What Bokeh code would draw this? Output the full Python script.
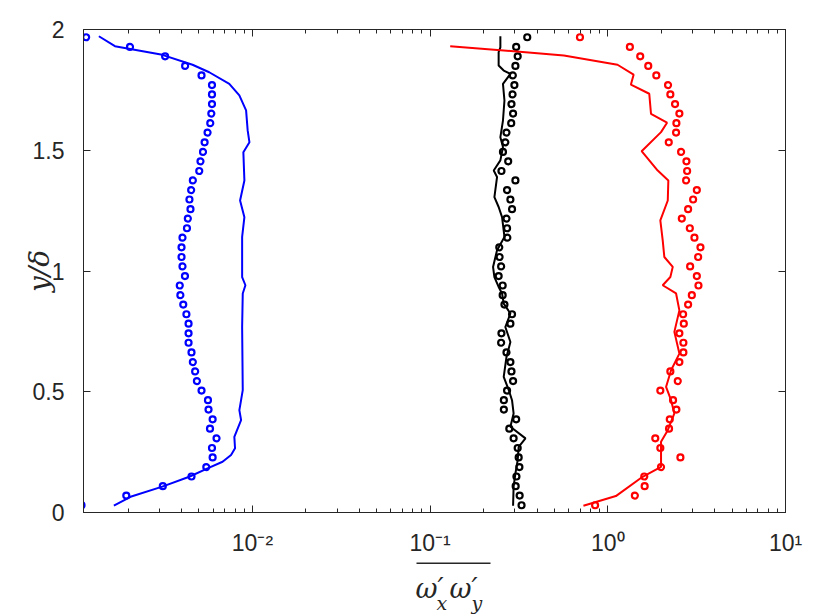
from bokeh.plotting import figure
from bokeh.layouts import column
from bokeh.core.properties import value
from bokeh.models import (Range1d, FixedTicker, CustomJSTickFormatter, LogAxis,
                          LinearAxis)
from bokeh.embed import file_html
from bokeh.resources import INLINE

# ---------------- data ----------------
# y positions of the circle markers (bottom -> top)
y_circ = [0.030, 0.070, 0.109, 0.149, 0.188, 0.228, 0.267, 0.307, 0.347, 0.386,
          0.426, 0.465, 0.505, 0.544, 0.584, 0.623, 0.663, 0.703, 0.742, 0.782,
          0.821, 0.861, 0.900, 0.940, 0.979, 1.019, 1.058, 1.098, 1.138, 1.177,
          1.217, 1.256, 1.296, 1.335, 1.375, 1.414, 1.454, 1.493, 1.533, 1.573,
          1.612, 1.652, 1.691, 1.731, 1.770, 1.810, 1.849, 1.889, 1.928, 1.968]

blue_circ_x = [1.091e-3, 1.95e-3, 3.13e-3, 4.54e-3, 5.50e-3, 5.97e-3, 5.92e-3, 6.28e-3, 5.77e-3, 5.97e-3,
               5.66e-3, 5.62e-3, 5.17e-3, 4.87e-3, 4.76e-3, 4.62e-3, 4.54e-3, 4.37e-3, 4.37e-3, 4.37e-3,
               4.25e-3, 4.08e-3, 3.93e-3, 3.90e-3, 4.17e-3, 4.04e-3, 3.99e-3, 3.99e-3, 4.04e-3, 4.28e-3,
               4.33e-3, 4.48e-3, 4.42e-3, 4.52e-3, 4.62e-3, 5.02e-3, 5.10e-3, 5.27e-3, 5.38e-3, 5.59e-3,
               5.79e-3, 5.87e-3, 5.92e-3, 5.92e-3, 5.92e-3, 5.17e-3, 4.18e-3, 3.225e-3, 2.046e-3, 1.159e-3]

black_circ_x = [0.327, 0.319, 0.303, 0.306, 0.318, 0.315, 0.311, 0.295, 0.279, 0.305,
                0.260, 0.260, 0.271, 0.293, 0.287, 0.283, 0.269, 0.251, 0.252, 0.283,
                0.289, 0.262, 0.256, 0.256, 0.243, 0.251, 0.246, 0.245, 0.272, 0.271,
                0.269, 0.289, 0.283, 0.271, 0.302, 0.252, 0.275, 0.257, 0.265, 0.269,
                0.286, 0.293, 0.287, 0.291, 0.298, 0.292, 0.302, 0.311, 0.305, 0.352]

red_circ_x = [0.848, 1.420, 1.612, 1.604, 1.993, 2.562, 1.975, 1.850, 2.211, 2.232,
              2.432, 2.329, 1.975, 2.476, 2.249, 2.528, 2.663, 2.663, 2.528, 2.677,
              2.653, 2.831, 2.971, 3.237, 3.170, 2.906, 3.224, 3.322, 3.073, 2.894,
              2.609, 2.831, 3.021, 3.170, 2.759, 2.795, 2.770, 2.585, 2.203, 2.422,
              2.432, 2.528, 2.390, 2.249, 2.183, 1.875, 1.689, 1.522, 1.331, 0.697]

blue_line_y = [0.028, 0.065, 0.107, 0.148, 0.183, 0.210, 0.238, 0.266, 0.313, 0.383,
               0.424, 0.465, 0.507, 0.768, 0.907, 0.941, 0.975, 1.044, 1.141, 1.223,
               1.292, 1.375, 1.492, 1.533, 1.582, 1.665, 1.727, 1.775, 1.823, 1.854,
               1.895, 1.931, 1.972]
blue_line_x = [1.66e-3, 2.06e-3, 3.11e-3, 4.41e-3, 5.59e-3, 6.79e-3, 7.58e-3, 7.98e-3, 7.91e-3, 8.63e-3,
               8.44e-3, 8.63e-3, 8.82e-3, 8.75e-3, 8.82e-3, 9.13e-3, 8.75e-3, 8.75e-3, 8.75e-3, 9.01e-3,
               8.52e-3, 9.01e-3, 8.89e-3, 9.62e-3, 9.40e-3, 9.21e-3, 8.44e-3, 7.41e-3, 5.71e-3, 4.60e-3,
               3.11e-3, 1.683e-3, 1.367e-3]

black_line_y = [0.028, 0.107, 0.162, 0.217, 0.272, 0.307, 0.355, 0.410, 0.465, 0.507,
                0.562, 0.644, 0.706, 0.768, 0.824, 0.865, 0.907, 0.934, 0.975, 1.017,
                1.086, 1.141, 1.223, 1.265, 1.306, 1.389, 1.416, 1.458, 1.513, 1.554,
                1.623, 1.706, 1.775, 1.816, 1.830, 1.851, 1.906, 1.926, 1.972]
black_line_x = [0.293, 0.295, 0.302, 0.311, 0.315, 0.344, 0.283, 0.295, 0.289, 0.277,
                0.2595, 0.269, 0.283, 0.265, 0.283, 0.2595, 0.254, 0.243, 0.230, 0.226,
                0.238, 0.262, 0.254, 0.243, 0.230, 0.238, 0.228, 0.2485, 0.257, 0.2485,
                0.257, 0.262, 0.257, 0.283, 0.2595, 0.243, 0.243, 0.2485, 0.2485]

red_line_y = [0.028, 0.068, 0.148, 0.189, 0.293, 0.341, 0.410, 0.465, 0.520, 0.589,
              0.658, 0.748, 0.837, 0.907, 0.941, 0.975, 1.017, 1.058, 1.127, 1.210,
              1.292, 1.375, 1.416, 1.496, 1.575, 1.614, 1.651, 1.734, 1.772, 1.813,
              1.854, 1.892, 1.910, 1.931]
red_line_x = [0.729, 1.110, 1.570, 1.993, 1.993, 2.175, 2.369, 2.270, 2.127, 2.270,
              2.528, 2.369, 2.528, 2.422, 2.037, 2.249, 2.320, 2.080, 2.037, 1.975,
              2.175, 2.191, 1.909, 1.550, 1.993, 2.154, 1.750, 1.711, 1.349, 1.397,
              1.134, 0.566, 0.2955, 0.1297]

x_ticks = [0.01, 0.1, 1, 10]
y_ticks = [0, 0.5, 1, 1.5, 2]

# pieces of the x-axis title  (overline over  ω'_x ω'_y)
xlabel_parts = ["ω′", "x", "ω′", "y"]

# ---------------- main figure ----------------
AX = "#262626"
W = 822
FL, FR = 83, 785          # frame left / right in page pixels
p = figure(width=W, height=560, x_axis_type="log",
           x_range=Range1d(1.12e-3, 10), y_range=Range1d(0, 2),
           output_backend="svg", toolbar_location=None,
           min_border_left=FL, min_border_right=W - FR,
           min_border_top=29, min_border_bottom=48)
p.grid.visible = False
p.outline_line_color = AX
p.outline_line_width = 1
p.background_fill_color = "white"
p.border_fill_color = "white"

minor = [k * 10.0 ** e for e in range(-3, 1) for k in range(2, 10)]
xt = FixedTicker(ticks=x_ticks, minor_ticks=minor)
yt = FixedTicker(ticks=y_ticks, minor_ticks=[])

sup_fmt = CustomJSTickFormatter(code="""
const e = Math.round(Math.log10(tick));
const m = {"-":"\u207b","0":"\u2070","1":"\u00b9","2":"\u00b2","3":"\u00b3"};
return "10" + String(e).split("").map(c => m[c]).join("");
""")
y_fmt = CustomJSTickFormatter(code="return tick.toString();")
blank = CustomJSTickFormatter(code="return '';")

def style(ax):
    ax.axis_line_color = AX
    ax.axis_line_width = 1
    ax.major_tick_line_color = AX
    ax.minor_tick_line_color = AX
    ax.major_tick_in = 7
    ax.major_tick_out = 0
    ax.minor_tick_in = 4
    ax.minor_tick_out = 0
    ax.major_label_text_font = "Liberation Sans"
    ax.major_label_text_font_size = "23px"
    ax.major_label_text_color = AX

xa = p.xaxis[0]
xa.ticker = xt
xa.formatter = sup_fmt
style(xa)
xa.major_label_standoff = 17

ya = p.yaxis[0]
ya.ticker = yt
ya.formatter = y_fmt
style(ya)
ya.minor_tick_line_color = None
ya.major_label_standoff = 19
ya.axis_label = "y/δ"
ya.axis_label_text_font = "DejaVu Serif"
ya.axis_label_text_font_style = "italic"
ya.axis_label_text_font_size = "28px"
ya.axis_label_text_color = AX
ya.axis_label_standoff = -26

top = LogAxis(ticker=xt, formatter=blank)
style(top)
top.major_label_standoff = 0
p.add_layout(top, "above")

right = LinearAxis(ticker=yt, formatter=blank)
style(right)
right.minor_tick_line_color = None
right.major_label_standoff = 0
p.add_layout(right, "right")

# ---------------- series ----------------
series = [(blue_line_x, blue_line_y, blue_circ_x, "#0000ff"),
          (black_line_x, black_line_y, black_circ_x, "#000000"),
          (red_line_x, red_line_y, red_circ_x, "#ff0000")]
for lx, ly, cx, col in series:
    p.line(lx, ly, line_color=col, line_width=2)
    p.scatter(cx, y_circ, marker="circle", size=6, fill_color=None,
              line_color=col, line_width=2.2)

# ---------------- x-axis title strip ----------------
# the column layout aligns this strip's frame with the main frame,
# so its x range is expressed in page pixels of that frame
H2 = 54
lab = figure(width=W, height=H2, x_range=Range1d(FL, FR), y_range=Range1d(0, H2),
             output_backend="svg", toolbar_location=None,
             x_axis_location=None, y_axis_location=None,
             min_border_left=0, min_border_right=0,
             min_border_top=0, min_border_bottom=0,
             outline_line_color=None)
lab.grid.visible = False
lab.background_fill_color = "white"
lab.border_fill_color = "white"

common = dict(text_font=value("DejaVu Serif"), text_font_style="italic",
              text_color=AX, text_align="left", text_baseline="alphabetic")
lab.text(x=[415, 449], y=[26, 26], text=[xlabel_parts[0], xlabel_parts[2]],
         text_font_size="27px", **common)
lab.text(x=[436, 471], y=[12, 12], text=[xlabel_parts[1], xlabel_parts[3]],
         text_font_size="19px", **common)
lab.segment(x0=[416], y0=[51.3], x1=[490], y1=[51.3], line_color=AX, line_width=1.5)

page = column(p, lab, spacing=0)
open("out.html", "w").write(file_html(page, INLINE))
